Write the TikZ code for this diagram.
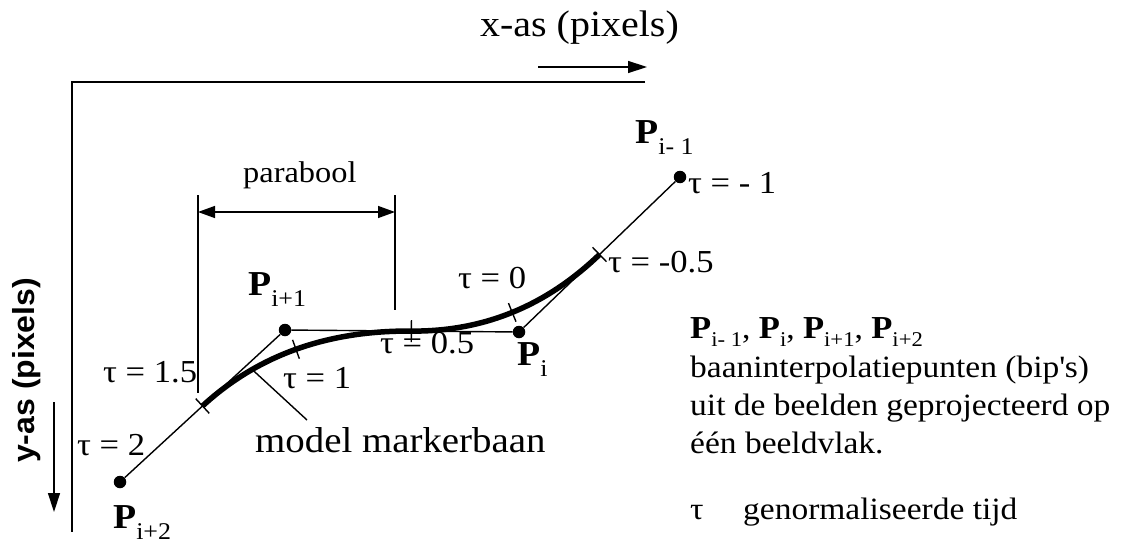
\documentclass[tikz,border=0pt]{standalone}
\usepackage{fontspec}
\setmainfont{Liberation Serif}[FakeStretch=1.08]
\newfontfamily\ysans{Liberation Sans}
\usetikzlibrary{calc,arrows.meta}
\newcommand{\fs}[1]{\fontsize{#1}{#1}\selectfont}
\newcommand{\PP}[4]{{\fs{#1}\bfseries P}\raisebox{#4}{\fs{#2}#3}}
\begin{document}
\begin{tikzpicture}[x=1pt,y=-1pt,
  thinline/.style={line width=1.4pt},
  axisline/.style={line width=1.2pt},
  curve/.style={line width=5.5pt},
  dot/.style={circle,fill,inner sep=0pt,minimum size=12.5pt},
  lbl/.style={anchor=base west,inner sep=0pt,font=\fs{32}},
  tri/.style={-{Triangle[length=19pt,width=12pt]}},
  dtri/.style={{Triangle[length=17pt,width=12pt]}-{Triangle[length=17pt,width=12pt]}}]
\useasboundingbox[fill=white] (0,0) rectangle (1126,543);

% axes
\coordinate (O) at (72,82);
\coordinate (xe) at (645,82);
\coordinate (ye) at (72,532);
\draw[axisline] (xe) -- (O) -- (ye);
\node[lbl,font=\fs{37}] (xas) at (480,37) {x-as (pixels)};
\coordinate (xa1) at (538,67);
\coordinate (xa2) at (647,67);
\draw[thinline,tri] (xa1) -- (xa2);
\node[rotate=90,anchor=base west,inner sep=0pt] (yas) at (34,463)
  {\scalebox{1}[0.95]{\ysans\bfseries\fs{32}y-as (pixels)}};
\coordinate (ya1) at (54,402);
\coordinate (ya2) at (54,512);
\draw[thinline,tri] (ya1) -- (ya2);

% points
\node[dot] (P2) at (120,482) {};
\node[dot] (P1) at (285,330) {};
\node[dot] (P0) at (519,332) {};
\node[dot] (Pm1) at (680,177) {};
\draw[thinline] (P2) -- (P1);
\draw[thinline] (P1) -- (P0);
\draw[thinline] (P0) -- (Pm1);

% model curve (two quadratic pieces)
\coordinate (m1) at ($(P2)!0.5!(P1)$);
\coordinate (m2) at ($(P1)!0.54!(P0)$);
\coordinate (m3) at ($(P0)!0.5!(Pm1)$);
\coordinate (c1) at ($(m1)!2/3!(P1)$);
\coordinate (c2) at ($(m2)!2/3!(P1)$);
\coordinate (c3) at ($(m2)!2/3!(P0)$);
\coordinate (c4) at ($(m3)!2/3!(P0)$);
\draw[curve] (m1) .. controls (c1) and (c2) .. (m2) .. controls (c3) and (c4) .. (m3);
\path (m1) .. controls (c1) and (c2) .. (m2) coordinate[pos=0.28] (lead);

% tick marks
\coordinate (a1) at ($(m1)!0.5!(P1)$);
\coordinate (b1) at ($(P1)!0.5!(m2)$);
\coordinate (t1) at ($(a1)!0.5!(b1)$);
\coordinate (a2) at ($(m2)!0.5!(P0)$);
\coordinate (b2) at ($(P0)!0.5!(m3)$);
\coordinate (t0) at ($(a2)!0.5!(b2)$);
\draw[thinline] ($(m1)!10pt!90:(P1)$) -- ($(m1)!10pt!-90:(P1)$);
\draw[thinline] ($(t1)!10pt!90:(b1)$) -- ($(t1)!10pt!-90:(b1)$);
\draw[thinline] ($(m2)!11pt!90:(P0)$) -- ($(m2)!11pt!-90:(P0)$);
\draw[thinline] ($(t0)!10pt!90:(b2)$) -- ($(t0)!10pt!-90:(b2)$);
\draw[thinline] ($(m3)!10pt!90:(Pm1)$) -- ($(m3)!10pt!-90:(Pm1)$);

% parabool dimension
\coordinate (d1t) at (198,195);
\coordinate (d1b) at (198,393);
\coordinate (d2t) at (395,195);
\coordinate (d2b) at (395,310);
\draw[thinline] (d1t) -- (d1b);
\draw[thinline] (d2t) -- (d2b);
\coordinate (da) at (198,212);
\coordinate (db) at (395,212);
\draw[thinline,dtri] (da) -- (db);
\node[lbl,font=\fs{30}] (par) at (243,182) {parabool};

% tau labels
\node[lbl] (lt15) at (103,382) {τ = 1.5};
\node[lbl] (lt2) at (77,455) {τ = 2};
\node[lbl] (lt1) at (283,388) {τ = 1};
\node[lbl] (lt05) at (380,353) {τ = 0.5};
\node[lbl] (lt0) at (458,288) {τ = 0};
\node[lbl] (ltm05) at (608,272) {τ = -0.5};
\node[lbl] (ltm1) at (688,193) {τ = - 1};

% point labels
\node[lbl] (lP2) at (113,528) {\PP{35}{24}{i+2}{-11pt}};
\node[lbl] (lP1) at (248,295) {\PP{35}{24}{i+1}{-11pt}};
\node[lbl] (lP0) at (517,365) {\PP{35}{24}{i}{-11pt}};
\node[lbl] (lPm1) at (635,143) {\PP{35}{24}{i- 1}{-11pt}};

% model label
\node[lbl,font=\fs{36}] (mm) at (255,452) {model markerbaan};
\coordinate (leadend) at (307,420);
\draw[thinline] (lead) -- (leadend);

% legend
\node[lbl,font=\fs{31}] (leg1) at (690,338)
  {\PP{32}{21}{i- 1}{-8pt}, \PP{32}{21}{i}{-8pt}, \PP{32}{21}{i+1}{-8pt}, \PP{32}{21}{i+2}{-8pt}};
\node[lbl,font=\fs{31}] (leg2) at (690,377) {baaninterpolatiepunten (bip\textquotesingle s)};
\node[lbl,font=\fs{31}] (leg3) at (690,415) {uit de beelden geprojecteerd op};
\node[lbl,font=\fs{31}] (leg4) at (690,453) {één beeldvlak.};
\node[lbl,font=\fs{31}] (leg5) at (690,519) {τ};
\node[lbl,font=\fs{31}] (leg6) at (743,519) {genormaliseerde tijd};
\end{tikzpicture}
\end{document}
